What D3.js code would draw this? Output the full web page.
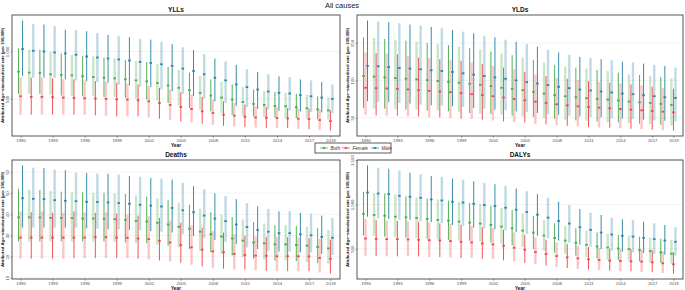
<!DOCTYPE html>
<html>
<head>
<meta charset="utf-8">
<script src="https://cdn.jsdelivr.net/npm/d3@7"></script>
<style>
  body { margin: 0; background: #fff; }
  text { font-family: "Liberation Sans", Arial, sans-serif; }
</style>
</head>
<body>
<div id="chart"></div>
<script>
// years and axis ticks
const years = [1990,1991,1992,1993,1994,1995,1996,1997,1998,1999,2000,2001,2002,2003,2004,
  2005,2006,2007,2008,2009,2010,2011,2012,2013,2014,2015,2016,2017,2018,2019];
const yearTicks = [1990,1993,1996,1999,2002,2005,2008,2011,2014,2017,2019];
const sexes = ['Both', 'Female', 'Male'];

// YLLs
const yllBothMean = [787,777,773,759,752,748,738,730,723,716,706,695,684,667,642,617,592,564,535,514,493,468,447,436,426,422,411,401,390,379];
const yllBothLo = [553,553,553,546,535,535,528,528,521,518,511,504,493,482,457,429,404,387,369,351,333,323,316,309,305,298,298,291,287,280];
const yllBothHi = [1032,1018,1018,996,979,965,954,947,936,926,911,901,890,865,837,805,777,741,706,681,652,624,599,582,574,564,553,546,528,518];
const yllFemMean = [528,521,521,518,514,511,507,504,500,496,493,486,475,457,436,415,394,369,351,333,323,312,305,301,298,294,291,287,277,266];
const yllFemLo = [333,333,333,333,333,333,333,326,323,316,316,316,305,291,280,262,252,238,227,216,209,202,199,192,192,192,184,181,174,167];
const yllFemHi = [730,723,723,716,706,706,695,688,681,670,660,652,635,617,599,571,546,521,493,475,457,440,422,415,411,404,397,394,387,379];
const yllMaleMean = [1025,1007,1000,989,979,965,947,936,926,915,904,890,879,865,848,819,794,759,723,695,652,624,599,578,564,557,539,528,514,500];
const yllMaleLo = [741,723,723,723,706,695,688,677,670,652,642,628,624,599,582,553,528,504,475,457,429,415,394,387,376,376,369,362,358,351];
const yllMaleHi = [1326,1291,1284,1266,1230,1227,1213,1195,1174,1160,1149,1131,1124,1103,1078,1043,1014,972,926,894,858,812,784,759,738,730,706,695,677,652];
const yllTicks = [500, 1000];

// YLDs
const yldBothMean = [105.9,105.0,104.0,103.1,102.2,101.3,100.4,99.1,98.2,96.8,95.5,94.1,92.3,90.1,88.7,86.9,84.7,82.4,80.2,78.8,77.5,76.1,75.2,74.3,73.0,71.6,70.7,69.8,68.5,67.1];
const yldBothLo = [63.1,62.2,62.2,61.7,60.8,60.8,59.9,59.5,58.5,57.6,56.3,55.4,54.9,54.0,52.7,51.8,50.9,49.5,48.6,47.3,46.4,45.9,45.0,44.1,43.7,42.8,41.9,41.4,40.5,39.6];
const yldBothHi = [157.7,156.8,155.4,154.1,153.2,151.8,150.0,148.6,147.3,145.0,143.2,141.0,138.7,136.0,133.8,130.6,127.5,123.9,120.7,118.5,117.1,115.8,114.0,112.6,110.4,108.1,107.2,105.9,104.5,102.7];
const yldFemMean = [90.1,89.6,89.2,88.7,87.8,86.9,86.0,85.1,84.2,82.9,81.5,80.2,78.8,77.0,75.2,73.4,71.6,69.8,68.0,66.7,65.3,64.4,63.5,62.6,61.7,60.8,59.9,59.0,58.1,57.2];
const yldFemLo = [54.0,53.1,52.7,52.7,51.8,51.8,50.9,50.4,49.5,48.6,48.2,47.3,46.4,45.0,44.1,43.7,41.9,41.0,40.1,39.2,38.3,37.4,36.9,36.5,36.0,35.1,34.7,33.8,33.3,32.9];
const yldFemHi = [137.4,136.5,136.0,135.1,132.9,130.6,130.2,128.4,127.5,126.1,123.9,121.6,119.4,117.1,114.9,111.3,108.1,105.9,103.6,102.2,100.4,99.1,97.7,96.8,95.9,94.6,93.2,91.4,90.1,88.7];
const yldMaleMean = [119.4,118.9,118.0,116.7,115.8,114.9,113.5,112.6,111.3,109.5,107.7,105.9,104.0,102.2,100.0,97.7,95.9,93.7,91.4,89.6,87.8,86.5,85.1,83.8,82.4,81.5,80.2,78.8,77.5,76.6];
const yldMaleLo = [72.1,71.2,70.7,69.8,68.9,67.6,66.7,66.2,65.3,64.4,63.1,62.2,60.8,59.9,58.5,57.6,56.3,54.9,54.0,52.7,51.8,50.9,50.4,49.5,48.6,48.2,47.3,46.4,45.9,45.0];
const yldMaleHi = [180.2,178.8,177.9,176.6,174.8,173.4,171.6,169.8,167.6,165.3,163.1,159.9,157.7,154.5,151.8,148.6,145.0,141.0,137.4,134.2,131.5,129.7,128.4,127.0,125.2,123.9,122.5,120.7,119.4,117.1];
const yldTicks = [50, 100, 150];

// Deaths
const dthBothMean = [38.6,38.6,38.5,38.3,38.3,38.2,38.0,38.0,37.9,37.7,37.4,36.9,36.6,36.0,35.2,34.1,33.2,31.8,30.6,29.5,28.6,27.6,26.7,26.3,25.8,25.8,25.5,25.2,24.6,23.9];
const dthBothLo = [27.2,27.2,27.2,27.2,27.2,27.2,27.2,27.2,27.2,27.0,26.7,26.4,26.3,25.6,25.2,24.4,23.6,22.8,22.1,21.3,20.5,19.8,19.0,18.7,18.2,18.2,17.9,17.4,17.0,16.7];
const dthBothHi = [52.0,51.5,51.5,51.0,50.7,50.4,50.4,50.2,50.2,49.9,49.6,48.9,48.4,47.6,46.8,45.6,44.5,42.7,41.0,39.9,38.6,37.6,36.3,35.7,34.9,34.9,34.5,34.1,33.4,32.6];
const dthFemMean = [29.0,29.0,29.0,29.0,29.0,29.0,29.0,29.2,29.2,29.0,28.9,28.6,28.3,27.5,26.7,25.5,24.4,23.3,22.5,22.1,21.3,20.8,20.5,20.4,20.2,20.2,20.2,20.1,19.4,19.0];
const dthFemLo = [19.0,19.0,19.0,19.0,19.0,19.3,19.3,19.3,19.3,19.3,19.3,19.0,18.7,18.2,17.7,17.1,16.2,15.4,14.8,14.3,14.0,13.9,13.6,13.3,13.1,13.1,13.1,13.1,12.5,12.0];
const dthFemHi = [41.4,41.0,41.4,40.7,40.7,41.4,41.0,40.7,41.0,40.3,39.9,39.4,39.1,38.3,37.1,36.0,34.8,33.7,32.1,31.4,30.6,29.8,29.5,29.3,29.2,29.2,29.0,28.7,28.3,28.0];
const dthMaleMean = [47.6,47.3,47.2,46.7,46.4,46.2,45.9,45.8,45.6,45.3,45.0,44.5,44.1,43.7,43.0,41.9,41.0,39.4,38.0,36.8,35.2,34.0,32.6,31.8,31.1,31.1,30.6,30.1,29.3,28.9];
const dthMaleLo = [33.7,33.7,33.7,33.7,33.7,33.7,33.4,33.2,32.9,32.9,32.6,32.6,32.1,31.7,31.4,30.6,29.8,28.7,27.8,27.0,25.9,24.4,23.6,22.8,22.4,22.4,22.1,22.1,21.3,20.8];
const dthMaleHi = [63.1,62.0,61.9,61.1,60.8,59.7,59.5,59.2,59.2,58.8,58.1,57.7,57.2,56.9,56.4,54.9,53.3,51.8,49.9,48.7,47.2,45.3,43.7,42.5,41.4,41.4,40.7,40.3,39.4,38.3];
const dthTicks = [10, 20, 30, 40, 50, 60];

// DALYs
const dalyBothMean = [892,881,873,862,855,847,836,825,817,806,795,784,769,750,731,705,683,649,620,593,567,545,526,515,504,496,485,474,459,444];
const dalyBothLo = [649,646,638,631,627,620,612,608,601,593,590,582,571,556,537,519,496,478,459,441,422,403,388,377,370,366,358,347,340,329];
const dalyBothHi = [1142,1131,1123,1112,1093,1078,1067,1056,1041,1030,1019,1004,985,963,937,899,869,825,787,758,731,705,683,668,657,649,638,627,612,601];
const dalyFemMean = [616,612,608,608,605,601,597,593,586,579,571,560,549,534,511,489,463,441,418,403,392,381,373,366,362,358,355,347,336,325];
const dalyFemLo = [422,418,414,414,414,414,407,407,403,396,396,388,385,370,358,340,325,310,295,284,273,265,258,254,247,247,239,235,228,220];
const dalyFemHi = [836,825,817,813,810,802,795,787,780,769,758,743,731,713,683,657,631,601,571,552,534,519,508,500,496,493,489,482,471,459];
const dalyMaleMean = [1134,1123,1116,1097,1086,1075,1056,1045,1030,1022,1007,993,981,963,940,914,884,851,813,784,743,713,683,661,646,638,623,608,593,579];
const dalyMaleLo = [862,843,836,825,825,806,799,787,769,758,739,731,720,705,687,668,646,620,593,571,545,519,496,478,467,459,452,441,433,422];
const dalyMaleHi = [1440,1414,1403,1384,1358,1339,1321,1310,1291,1280,1261,1243,1228,1209,1179,1149,1116,1075,1030,993,948,907,881,851,832,825,806,787,769,743];
const dalyTicks = [500, 1000, 1500];

const colors = { Both: '#4dac4a', Female: '#f0474b', Male: '#2a86aa' };
const yTitle = 'Attributed Age\u2212standardized rate (per 100,000)';

// bundle a panel's arrays into rows
function makeRows(means, los, his) {
  const rows = [];
  sexes.forEach((sex, s) => {
    years.forEach((yr, i) => {
      rows.push({ sex: sex, s: s, i: i, year: yr, mean: means[s][i], lo: los[s][i], hi: his[s][i] });
    });
  });
  return rows;
}

const panels = [
  { title: 'YLLs', left: 12, top: 15, right: 340, bottom: 136, ticks: yllTicks,
    rows: makeRows([yllBothMean, yllFemMean, yllMaleMean], [yllBothLo, yllFemLo, yllMaleLo], [yllBothHi, yllFemHi, yllMaleHi]) },
  { title: 'YLDs', left: 357, top: 15, right: 683, bottom: 136, ticks: yldTicks,
    rows: makeRows([yldBothMean, yldFemMean, yldMaleMean], [yldBothLo, yldFemLo, yldMaleLo], [yldBothHi, yldFemHi, yldMaleHi]) },
  { title: 'Deaths', left: 12, top: 160, right: 340, bottom: 279, ticks: dthTicks,
    rows: makeRows([dthBothMean, dthFemMean, dthMaleMean], [dthBothLo, dthFemLo, dthMaleLo], [dthBothHi, dthFemHi, dthMaleHi]) },
  { title: 'DALYs', left: 357, top: 160, right: 683, bottom: 279, ticks: dalyTicks,
    rows: makeRows([dalyBothMean, dalyFemMean, dalyMaleMean], [dalyBothLo, dalyFemLo, dalyMaleLo], [dalyBothHi, dalyFemHi, dalyMaleHi]) }
];

const svg = d3.select('#chart').append('svg')
  .attr('width', 685)
  .attr('height', 290);

svg.append('text')
  .attr('x', 342).attr('y', 8)
  .attr('text-anchor', 'middle')
  .attr('font-size', 7.5)
  .attr('fill', '#222')
  .text('All causes');

panels.forEach(p => drawPanel(p));
drawLegend();

function drawPanel(p) {
  const g = svg.append('g');
  const xScale = d3.scaleLinear().domain([1989.2, 2019.9]).range([p.left, p.right]);
  const ext = [d3.min(p.rows, d => d.lo), d3.max(p.rows, d => d.hi)];
  const pad = (ext[1] - ext[0]) * 0.05;
  const yScale = d3.scaleLinear().domain([ext[0] - pad, ext[1] + pad]).range([p.bottom, p.top]);
  const dodge = 0.19;

  // grid
  g.append('g').selectAll('line')
    .data(p.ticks)
    .enter().append('line')
    .attr('x1', p.left).attr('x2', p.right)
    .attr('y1', d => yScale(d)).attr('y2', d => yScale(d))
    .attr('stroke', '#ebebeb').attr('stroke-width', 0.6);

  // ranges: alternate light band / dark thin line
  g.append('g').selectAll('line')
    .data(p.rows)
    .enter().append('line')
    .attr('x1', d => xScale(d.year + (d.s - 1) * dodge))
    .attr('x2', d => xScale(d.year + (d.s - 1) * dodge))
    .attr('y1', d => yScale(d.lo))
    .attr('y2', d => yScale(d.hi))
    .attr('stroke', d => colors[d.sex])
    .attr('stroke-width', d => (d.i + d.s) % 2 ? 2.4 : 1)
    .attr('stroke-opacity', d => (d.i + d.s) % 2 ? 0.3 : 0.95);

  // means
  g.append('g').selectAll('rect')
    .data(p.rows)
    .enter().append('rect')
    .attr('x', d => xScale(d.year + (d.s - 1) * dodge) - 1.3)
    .attr('y', d => yScale(d.mean) - 0.9)
    .attr('width', 2.6)
    .attr('height', 1.8)
    .attr('fill', d => colors[d.sex]);

  // frame
  g.append('rect')
    .attr('x', p.left).attr('y', p.top)
    .attr('width', p.right - p.left).attr('height', p.bottom - p.top)
    .attr('fill', 'none').attr('stroke', '#444').attr('stroke-width', 0.9);

  // x axis
  const xAxis = g.append('g')
    .attr('transform', `translate(0,${p.bottom})`)
    .call(d3.axisBottom(xScale).tickValues(yearTicks).tickFormat(d3.format('d')).tickSize(1.8).tickPadding(1));
  xAxis.select('.domain').remove();
  xAxis.selectAll('line').attr('stroke', '#444').attr('stroke-width', 0.5);
  xAxis.selectAll('text').attr('font-size', 4.3).attr('fill', '#4d4d4d').attr('font-family', '"Liberation Sans", Arial, sans-serif');

  // y axis, labels turned vertical
  const yAxis = g.append('g')
    .attr('transform', `translate(${p.left},0)`)
    .call(d3.axisLeft(yScale).tickValues(p.ticks).tickSize(1.5).tickPadding(1));
  yAxis.select('.domain').remove();
  yAxis.selectAll('line').attr('stroke', '#444').attr('stroke-width', 0.5);
  yAxis.selectAll('text')
    .attr('font-size', 4.3).attr('fill', '#4d4d4d')
    .attr('font-family', '"Liberation Sans", Arial, sans-serif')
    .attr('text-anchor', 'middle').attr('dy', 0)
    .attr('x', 0).attr('y', 0)
    .attr('transform', 'translate(-3,0) rotate(-90)');

  // titles
  g.append('text')
    .attr('x', (p.left + p.right) / 2).attr('y', p.top - 3)
    .attr('text-anchor', 'middle')
    .attr('font-size', 6.5).attr('font-weight', 'bold').attr('fill', '#111')
    .text(p.title);

  g.append('text')
    .attr('x', (p.left + p.right) / 2).attr('y', p.bottom + 10.5)
    .attr('text-anchor', 'middle')
    .attr('font-size', 4.8).attr('font-weight', 'bold').attr('fill', '#111')
    .text('Year');

  g.append('text')
    .attr('transform', `translate(${p.left - 8.5},${(p.top + p.bottom) / 2}) rotate(-90)`)
    .attr('text-anchor', 'middle')
    .attr('font-size', 4.3).attr('font-weight', 'bold').attr('fill', '#111')
    .text(yTitle);
}

function drawLegend() {
  const lg = svg.append('g').attr('transform', 'translate(315,143)');
  lg.append('rect')
    .attr('width', 76).attr('height', 10)
    .attr('fill', '#fff').attr('stroke', '#333').attr('stroke-width', 0.8);
  const keyX = [5, 27, 56];
  const items = lg.selectAll('g.item')
    .data(sexes)
    .enter().append('g')
    .attr('class', 'item')
    .attr('transform', (d, i) => `translate(${keyX[i]},5)`);
  items.append('line')
    .attr('x1', 0).attr('x2', 8).attr('y1', 0).attr('y2', 0)
    .attr('stroke', d => colors[d]).attr('stroke-width', 2.2).attr('stroke-opacity', 0.35);
  items.append('rect')
    .attr('x', 2.7).attr('y', -0.9).attr('width', 2.6).attr('height', 1.8)
    .attr('fill', d => colors[d]);
  items.append('text')
    .attr('x', 10.5).attr('y', 1.6)
    .attr('font-size', 4.6).attr('font-style', 'italic').attr('fill', '#333')
    .text(d => d);
}
</script>
</body>
</html>
